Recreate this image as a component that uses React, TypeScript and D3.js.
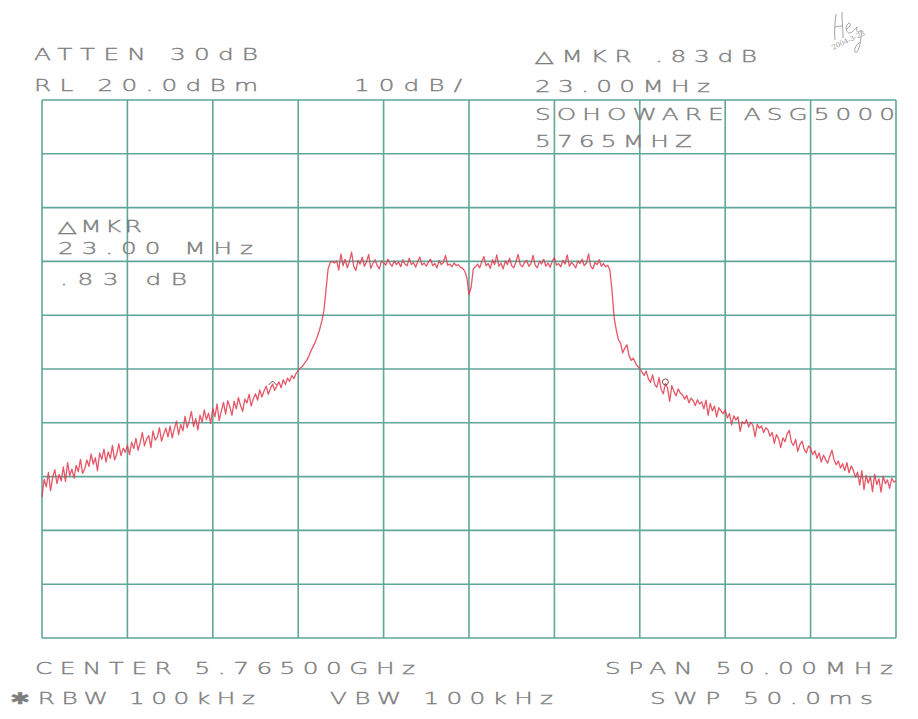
import React from "react";
import * as d3 from "d3";

// ---- Data (read from the plotter output) ----
const FREQ_START_MHZ = -25; // offset from the 5765 MHz centre
const FREQ_STEP_MHZ = 0.125;
const REF_LEVEL_DBM = 20;
const DB_PER_DIV = 10;

const GRID_FREQ = [-25, -20, -15, -10, -5, 0, 5, 10, 15, 20, 25];
const GRID_DBM = [20, 10, 0, -10, -20, -30, -40, -50, -60, -70, -80];

// trace level in dBm, one value per sweep point (0.125 MHz apart), 20 per row = 2.5 MHz
const TRACE_DBM = [
  -53.8, -50.5, -51.9, -49.2, -52.6, -50.1, -48.7, -51.3, -49.6, -50.8,
  -48.2, -50.9, -47.4, -49.8, -48.6, -50.3, -47.9, -49.1, -46.8, -49.4,
  -48.6, -46.9, -48.1, -45.8, -47.7, -46.5, -48.9, -45.6, -46.8, -44.9,
  -47.3, -45.4, -46.6, -44.2, -46.9, -45.8, -43.9, -46.1, -44.7, -45.5,
  -44.2, -45.9, -43.6, -44.8, -42.9, -45.1, -43.7, -41.8, -44.3, -43.0,
  -42.4, -44.6, -41.5, -43.2, -42.7, -40.9, -43.4, -42.1, -41.0, -42.6,
  -40.6, -42.8, -41.1, -39.7, -42.2, -40.3, -41.5, -38.8, -40.9, -39.6,
  -37.9, -40.7, -39.2, -41.3, -38.6, -39.9, -37.6, -39.4, -38.2, -40.1,
  -37.3, -38.9, -36.5, -39.6, -37.8, -36.2, -38.4, -35.9, -37.1, -38.6,
  -36.0, -37.4, -35.3, -36.8, -37.9, -35.6, -36.3, -34.7, -36.9, -35.5,
  -34.6, -35.8, -33.9, -35.2, -34.1, -33.2, -34.7, -33.6, -32.8, -34.0,
  -33.1, -32.4, -33.5, -32.0, -32.9, -31.7, -32.3, -31.2, -31.8, -30.8,
  -30.3, -29.8, -29.5, -28.9, -28.4, -27.6, -26.6, -25.8, -25.0, -23.9,
  -22.7, -21.2, -19.3, -15.4, -11.4, -10.2, -10.0, -10.3, -9.9, -11.6,
  -8.6, -10.8, -9.6, -11.2, -10.0, -8.3, -10.9, -11.7, -9.8, -10.5,
  -9.2, -10.9, -10.1, -8.7, -11.3, -10.4, -9.7, -10.8, -11.4, -9.9,
  -10.2, -10.7, -9.6, -10.4, -10.9, -9.9, -10.6, -10.1, -11.0, -9.7,
  -10.5, -10.8, -9.4, -10.6, -10.2, -11.1, -10.0, -9.2, -10.7, -10.3,
  -10.9, -10.1, -9.6, -10.8, -10.4, -11.2, -9.8, -10.6, -10.2, -8.9,
  -10.7, -10.5, -11.0, -10.3, -10.8, -10.6, -11.1, -11.3, -11.8, -13.0,
  -16.2, -14.8, -11.4, -11.0, -10.5, -11.2, -10.0, -9.1, -10.8, -10.4,
  -11.3, -9.7, -10.6, -8.8, -10.9, -10.3, -11.4, -9.9, -10.6, -9.4,
  -10.8, -11.2, -10.1, -8.7, -10.6, -11.0, -10.2, -9.8, -10.9, -10.4,
  -8.9, -10.7, -11.2, -10.0, -10.5, -9.6, -10.9, -10.3, -11.1, -10.0,
  -9.3, -10.7, -10.4, -11.0, -9.8, -10.5, -8.8, -10.9, -10.2, -10.6,
  -11.2, -9.9, -10.4, -9.6, -10.8, -10.3, -8.6, -10.9, -11.4, -10.2,
  -10.6, -9.7, -10.9, -10.4, -11.0, -10.7, -11.6, -15.5, -20.5, -22.8,
  -24.6, -25.2, -27.0, -26.1, -25.5, -27.6, -28.4, -28.0, -28.9, -29.5,
  -29.9, -30.6, -31.2, -30.4, -31.8, -32.5, -31.1, -32.9, -33.4, -31.6,
  -33.8, -34.6, -32.7, -33.5, -36.0, -33.1, -34.2, -35.0, -33.7, -34.5,
  -34.8, -35.6, -34.9, -36.3, -35.4, -35.9, -36.8, -35.7, -36.5, -36.1,
  -37.4, -35.8, -38.6, -36.4, -37.8, -36.9, -38.9, -37.2, -37.8, -38.3,
  -37.6, -39.1, -38.3, -40.4, -38.7, -39.5, -38.9, -41.6, -39.8, -40.2,
  -39.4, -40.8, -39.9, -40.5, -42.6, -40.3, -41.0, -40.6, -41.8, -40.9,
  -41.3, -42.5, -41.8, -43.8, -42.2, -42.9, -44.6, -42.8, -43.5, -42.1,
  -41.4, -43.6, -44.2, -43.1, -45.3, -44.0, -43.4, -44.9, -45.6, -44.3,
  -44.8, -45.9, -45.2, -46.6, -45.6, -47.3, -46.0, -46.8, -47.5, -46.2,
  -45.1, -46.9, -47.8, -47.1, -48.4, -47.6, -48.9, -47.4, -49.3, -48.0,
  -48.8, -50.1, -49.2, -51.6, -48.9, -52.4, -49.8, -51.2, -50.0, -52.8,
  -49.6, -51.5, -50.4, -52.9, -49.9, -51.3, -50.6, -52.2, -50.3, -51.0,
  -50.8,
];

// delta marker pair, 23 MHz apart
const MARKER_FREQ = [-11.5, 11.5];
const MARKER_DBM = [-32.6, -32.4];

const HEADER_LEFT = ["ATTEN 30dB", "RL 20.0dBm", "10dB/"];
const HEADER_RIGHT = ["\u25B3MKR .83dB", "23.00MHz", "SOHOWARE ASG5000", "5765MHZ"];
const MARKER_BOX = ["\u25B3MKR", "23.00 MHz", ".83 dB"];
const FOOTER = ["CENTER 5.76500GHz", "SPAN 50.00MHz", "\u2731RBW 100kHz", "VBW 100kHz", "SWP 50.0ms"];

// ---- Drawing ----
const W = 918;
const H = 719;
const GRID_COLOR = "#4f9d8e";
const TEXT_COLOR = "#7e7e7e";
const TRACE_COLOR = "#e03a4c";
const FONT = "'DejaVu Sans', sans-serif";
const SX = 1.5;

type Lbl = { t: string; x: number; y: number; w: number };

function PlotText({ t, x, y, w }: Lbl) {
  return (
    <text
      transform={`translate(${x},${y}) scale(${SX},1)`}
      x={0}
      y={0}
      textLength={w / SX}
      lengthAdjust="spacing"
      fontFamily={FONT}
      fontWeight={200}
      fontSize={16.5}
      fill={TEXT_COLOR}
      stroke={TEXT_COLOR}
      strokeWidth={0.35}
      style={{ whiteSpace: "pre" }}
    >
      {t}
    </text>
  );
}

export default function App() {
  const x = d3.scaleLinear().domain([-25, 25]).range([42, 896]);
  const y = d3
    .scaleLinear()
    .domain([REF_LEVEL_DBM - 10 * DB_PER_DIV, REF_LEVEL_DBM])
    .range([638, 100]);

  const pts: [number, number][] = TRACE_DBM.map((v, i) => [
    FREQ_START_MHZ + i * FREQ_STEP_MHZ,
    v,
  ]);
  const line = d3
    .line<[number, number]>()
    .x((d) => x(d[0]))
    .y((d) => y(d[1]));

  const labels: Lbl[] = [
    { t: HEADER_LEFT[0], x: 34, y: 60, w: 224 },
    { t: HEADER_LEFT[1], x: 34, y: 91, w: 224 },
    { t: HEADER_LEFT[2], x: 354, y: 91, w: 108 },
    { t: HEADER_RIGHT[0], x: 535, y: 62, w: 222 },
    { t: HEADER_RIGHT[1], x: 535, y: 92, w: 175 },
    { t: HEADER_RIGHT[2], x: 535, y: 120, w: 360 },
    { t: HEADER_RIGHT[3], x: 535, y: 147, w: 157 },
    { t: MARKER_BOX[0], x: 58, y: 232, w: 84 },
    { t: MARKER_BOX[1], x: 58, y: 254, w: 195 },
    { t: MARKER_BOX[2], x: 60, y: 285, w: 127 },
    { t: FOOTER[0], x: 35, y: 674, w: 380 },
    { t: FOOTER[1], x: 605, y: 674, w: 288 },
    { t: FOOTER[2], x: 10, y: 704, w: 245 },
    { t: FOOTER[3], x: 330, y: 704, w: 223 },
    { t: FOOTER[4], x: 650, y: 704, w: 223 },
  ];

  return (
    <svg
      width={W}
      height={H}
      viewBox={`0 0 ${W} ${H}`}
      style={{ position: "absolute", left: 0, top: 0, background: "#ffffff" }}
    >
      <rect x={0} y={0} width={W} height={H} fill="#ffffff" />
      {/* grid */}
      <g stroke={GRID_COLOR} strokeWidth={1.6} fill="none" opacity={0.9}>
        {GRID_FREQ.map((f) => (
          <line key={"v" + f} x1={x(f)} x2={x(f)} y1={y(-80)} y2={y(20)} />
        ))}
        {GRID_DBM.map((d) => (
          <line key={"h" + d} x1={x(-25)} x2={x(25)} y1={y(d)} y2={y(d)} />
        ))}
      </g>
      {/* text */}
      {labels.map((l, i) => (
        <PlotText key={i} {...l} />
      ))}
      {/* trace */}
      <path
        d={line(pts) || ""}
        fill="none"
        stroke={TRACE_COLOR}
        strokeWidth={1.3}
        strokeLinejoin="round"
        opacity={0.85}
      />
      {/* delta markers */}
      <g stroke="#8a4a55" strokeWidth={1} fill="none">
        <path
          d={`M${x(MARKER_FREQ[0]) - 4},${y(MARKER_DBM[0]) + 2} l4,-4 l4,4`}
        />
        <circle cx={x(MARKER_FREQ[1])} cy={y(MARKER_DBM[1])} r={3} />
      </g>
      {/* handwritten signature */}
      <g fill="none" stroke="#9a9a9a" strokeWidth={0.9}>
        <path d="M836,14 C835,22 834,30 835,40 M842,12 C842,22 843,30 843,38 M835,27 C838,26 841,26 843,26 M846,30 C850,26 852,24 849,23 C845,25 845,33 850,33 C853,32 855,29 857,27 C856,32 858,34 861,30 C862,36 860,48 857,52 C854,54 853,47 860,42" />
      </g>
      <text
        x={833}
        y={50}
        fontFamily="'DejaVu Serif', serif"
        fontSize={7}
        fill="#9a9a9a"
        transform="rotate(-25 833 50)"
      >
        2004-3-23
      </text>
    </svg>
  );
}
